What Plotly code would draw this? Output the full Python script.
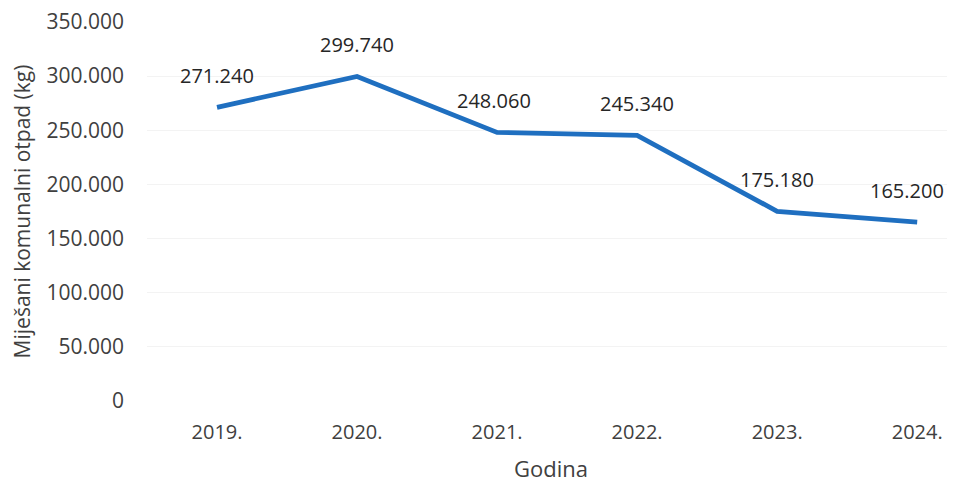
import plotly.graph_objects as go

years = ["2019.", "2020.", "2021.", "2022.", "2023.", "2024."]
waste_kg = [271240, 299740, 248060, 245340, 175180, 165200]
y_ticks = [0, 50000, 100000, 150000, 200000, 250000, 300000, 350000]

FONT = "Open Sans"
TXT = "#404040"

def fmt(v):
    return f"{v:,}".replace(",", ".")

# horizontal nudges of the data labels (style only)
label_dx = [0, 0, -3, 0, 0, -10]

fig = go.Figure()
fig.add_trace(go.Scatter(
    x=list(range(len(years))), y=waste_kg, mode="lines",
    line=dict(color="#1f6fc0", width=4.8),
    hoverinfo="skip", showlegend=False,
))

for i, v in enumerate(waste_kg):
    fig.add_annotation(x=i, y=v, text=fmt(v), showarrow=False, yshift=32,
                       xshift=label_dx[i],
                       font=dict(family=FONT, size=20, color="#262626"))

fig.update_layout(
    width=947, height=475,
    margin=dict(l=139, r=0, t=14, b=82),
    paper_bgcolor="white", plot_bgcolor="white",
    separators=",.",
    font=dict(family=FONT, size=20, color=TXT),
    xaxis=dict(
        range=[-0.5, 5.27],
        tickvals=list(range(len(years))), ticktext=years,
        showgrid=False, showline=False, zeroline=False, ticks="",
        ticklabelstandoff=17,
        tickfont=dict(family=FONT, size=20, color=TXT),
        title=dict(text="Godina", standoff=20, font=dict(family=FONT, size=22, color=TXT)),
    ),
    yaxis=dict(
        range=[0, 350000], tickvals=y_ticks, tickformat=",d",
        ticklabeloverflow="allow",
        showgrid=True, gridcolor="#f3f3f3", gridwidth=1,
        zeroline=False, showline=False, ticks="",
        ticklabelstandoff=22,
        tickfont=dict(family=FONT, size=21, color=TXT),
        title=dict(text="Miješani komunalni otpad (kg)", standoff=11,
                   font=dict(family=FONT, size=21, color=TXT)),
    ),
)

fig.write_html("out.html")
